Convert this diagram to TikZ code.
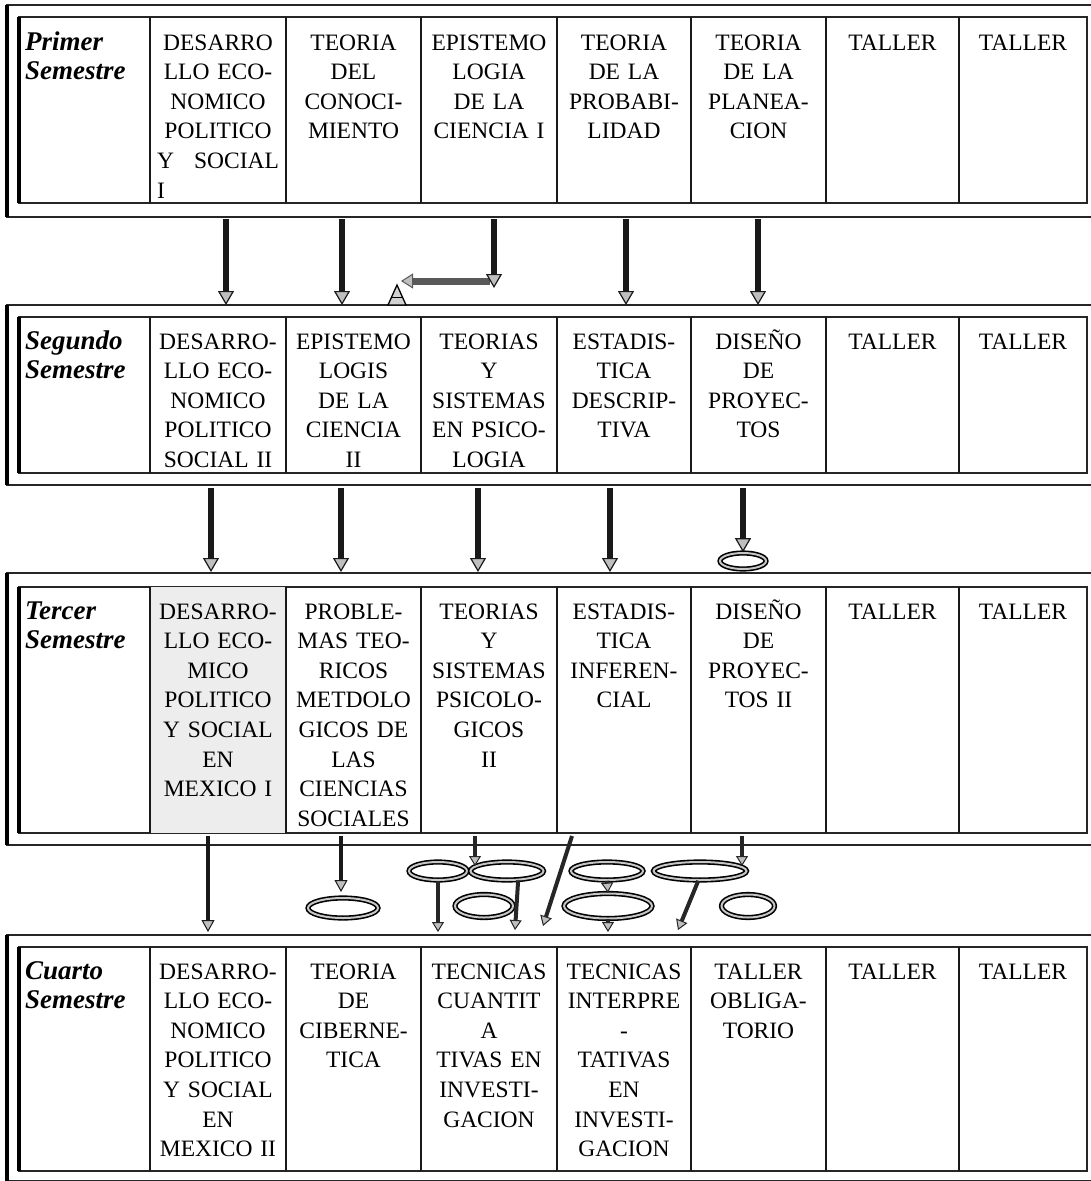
\documentclass[tikz,border=0pt]{standalone}
\usepackage{fontspec}
\setmainfont{Liberation Serif}
\usetikzlibrary{arrows.meta,shapes.geometric}
\begin{document}
\begin{tikzpicture}[x=1pt,y=-1pt,
  cellt/.style={anchor=base,inner sep=0pt,align=center,text width=128pt,
    font=\fontsize{23.5}{29.6}\selectfont},
  semlabel/.style={anchor=base west,inner sep=0pt,align=left,text width=124pt,
    font=\fontsize{27}{29.6}\selectfont\bfseries\itshape},
  outerline/.style={line width=1.8pt,draw=black!85},
  innerline/.style={line width=1.5pt,draw=black!85},
  leftline/.style={line width=3.2pt,draw=black},
  colline/.style={line width=1.3pt,draw=black!90},
  bigarrow/.style={line width=6.5pt,draw=black!90,
    -{Triangle[width=16pt,length=14pt,line width'=1.2pt,fill=gray!50]}},
  medarrow/.style={line width=4.5pt,draw=black!90,
    -{Triangle[width=13pt,length=12pt,line width'=1pt,fill=gray!50]}},
  smallarrow/.style={line width=4pt,draw=black!85,
    -{Triangle[width=12pt,length=10pt,line width'=1pt,fill=gray!50]}},
  hbar/.style={line width=7pt,draw=black!65,
    -{Triangle[width=15pt,length=12pt,line width'=1pt,fill=gray!50]}},
  ell/.style={ellipse,draw=black,line width=1.6pt,double=gray!45,double distance=2pt,
    inner sep=0pt,fill=white},
]
\useasboundingbox (0,0) rectangle (1091,1181);

% ---------- row frames ----------
\foreach \ot/\it/\ib/\ob in {5/17/203/217, 305/317/473/485, 573/587/833/845, 935/947/1171/1181}{
  \draw[outerline] (1095,\ot) -- (7,\ot) -- (7,\ob) -- (1095,\ob);
  \draw[innerline] (1087,\it) -- (19,\it) -- (19,\ib) -- (1087,\ib) -- cycle;
  \draw[leftline] (7,\ot) -- (7,\ob);
  \draw[leftline] (19,\it) -- (19,\ib);
}
% shaded cell in third row
\fill[gray!14] (150,587) rectangle (286,833);
\foreach \it/\ib in {17/203, 317/473, 587/833, 947/1171}{
  \foreach \x in {150,286,421,557,691,826,959}{
    \draw[colline] (\x,\it) -- (\x,\ib);
  }
}

% ---------- row 1 ----------
\node[semlabel] (l1) at (25,50) {Primer\\Semestre};
\node[cellt] (r1c1) at (218,50) {DESARRO\\LLO ECO-\\NOMICO\\POLITICO\\\makebox[122pt][s]{Y\hfill SOCIAL}\\\makebox[122pt][l]{I}};
\node[cellt] (r1c2) at (353.5,50) {TEORIA\\DEL\\CONOCI-\\MIENTO};
\node[cellt] (r1c3) at (489,50) {EPISTEMO\\LOGIA\\DE\hspace{8pt}LA\\CIENCIA I};
\node[cellt] (r1c4) at (624,50) {TEORIA\\DE LA\\PROBABI-\\LIDAD};
\node[cellt] (r1c5) at (758.5,50) {TEORIA\\DE LA\\PLANEA-\\CION};
\node[cellt] (r1c6) at (892.5,50) {TALLER};
\node[cellt] (r1c7) at (1023,50) {TALLER};

% ---------- row 2 ----------
\node[semlabel] (l2) at (25,349) {Segundo\\Semestre};
\node[cellt] (r2c1) at (218,349) {DESARRO-\\LLO ECO-\\NOMICO\\POLITICO\\SOCIAL II};
\node[cellt] (r2c2) at (353.5,349) {EPISTEMO\\LOGIS\\DE\hspace{8pt}LA\\CIENCIA\\II};
\node[cellt] (r2c3) at (489,349) {TEORIAS\\Y\\SISTEMAS\\EN PSICO-\\LOGIA};
\node[cellt] (r2c4) at (624,349) {ESTADIS-\\TICA\\DESCRIP-\\TIVA};
\node[cellt] (r2c5) at (758.5,349) {DISEÑO\\DE\\PROYEC-\\TOS};
\node[cellt] (r2c6) at (892.5,349) {TALLER};
\node[cellt] (r2c7) at (1023,349) {TALLER};

% ---------- row 3 ----------
\node[semlabel] (l3) at (25,619) {Tercer\\Semestre};
\node[cellt] (r3c1) at (218,619) {DESARRO-\\LLO ECO-\\MICO\\POLITICO\\Y SOCIAL\\EN\\MEXICO I};
\node[cellt] (r3c2) at (353.5,619) {PROBLE-\\MAS TEO-\\RICOS\\METDOLO\\GICOS DE\\LAS\\CIENCIAS\\SOCIALES};
\node[cellt] (r3c3) at (489,619) {TEORIAS\\Y\\SISTEMAS\\PSICOLO-\\GICOS\\II};
\node[cellt] (r3c4) at (624,619) {ESTADIS-\\TICA\\INFEREN-\\CIAL};
\node[cellt] (r3c5) at (758.5,619) {DISEÑO\\DE\\PROYEC-\\TOS II};
\node[cellt] (r3c6) at (892.5,619) {TALLER};
\node[cellt] (r3c7) at (1023,619) {TALLER};

% ---------- row 4 ----------
\node[semlabel] (l4) at (25,979) {Cuarto\\Semestre};
\node[cellt] (r4c1) at (218,979) {DESARRO-\\LLO ECO-\\NOMICO\\POLITICO\\Y SOCIAL\\EN\\MEXICO II};
\node[cellt] (r4c2) at (353.5,979) {TEORIA\\DE\\CIBERNE-\\TICA};
\node[cellt] (r4c3) at (489,979) {TECNICAS\\CUANTIT\\A\\TIVAS EN\\INVESTI-\\GACION};
\node[cellt] (r4c4) at (624,979) {TECNICAS\\INTERPRE\\-\\TATIVAS\\EN\\INVESTI-\\GACION};
\node[cellt] (r4c5) at (758.5,979) {TALLER\\OBLIGA-\\TORIO};
\node[cellt] (r4c6) at (892.5,979) {TALLER};
\node[cellt] (r4c7) at (1023,979) {TALLER};

% ---------- arrows row 1 -> row 2 ----------
\foreach \n/\x in {a/226,b/342,d/626,e/758}{
  \coordinate (s1\n) at (\x,219);
  \coordinate (t1\n) at (\x,305);
  \draw[bigarrow] (s1\n) -- (t1\n);
}
\coordinate (s1c) at (494,219);
\coordinate (k1c) at (494,288);
\coordinate (h1a) at (490,281);
\coordinate (h1b) at (401,281);
\draw[hbar] (h1a) -- (h1b);
\draw[bigarrow] (s1c) -- (k1c);
\draw[line width=1.3pt,fill=gray!35] (388,305) -- (397,285) -- (406,305) -- cycle;
\draw[line width=1pt] (392,297) -- (402,297);

% ---------- arrows row 2 -> row 3 ----------
\foreach \n/\x in {a/211,b/341,c/478,d/610}{
  \coordinate (s2\n) at (\x,488);
  \coordinate (t2\n) at (\x,572);
  \draw[bigarrow] (s2\n) -- (t2\n);
}
\node[ell,minimum width=46pt,minimum height=16pt] (ee) at (743,561) {};
\coordinate (s2e) at (743,488);
\draw[bigarrow] (s2e) -- (ee.north);

% ---------- arrows row 3 -> row 4 ----------
\coordinate (s3a) at (208,836);
\coordinate (t3a) at (208,932);
\draw[medarrow] (s3a) -- (t3a);

\node[ell,minimum width=70pt,minimum height=20pt] (eb) at (343,908) {};
\coordinate (s3b) at (341,836);
\coordinate (t3b) at (341,892);
\draw[medarrow] (s3b) -- (t3b);

\node[ell,minimum width=58pt,minimum height=18pt] (e1) at (438,871) {};
\node[ell,minimum width=58pt,minimum height=23pt] (e2) at (484,906) {};
\node[ell,minimum width=73pt,minimum height=18pt] (e3) at (507,871) {};
\node[ell,minimum width=72pt,minimum height=18pt] (e4) at (607,871) {};
\node[ell,minimum width=88pt,minimum height=25pt] (e5) at (608,906) {};
\node[ell,minimum width=93pt,minimum height=18pt] (e6) at (700,871) {};
\node[ell,minimum width=53pt,minimum height=23pt] (e7) at (748,906) {};

\coordinate (t3e1) at (438,932);
\draw[smallarrow] (e1.south) -- (t3e1);

\coordinate (s3c) at (475,836);
\coordinate (t3c) at (475,866);
\draw[smallarrow] (s3c) -- (t3c);

\coordinate (t3e3) at (515,930);
\draw[smallarrow] (e3.-40) -- (t3e3);

\coordinate (s3d) at (572,836);
\coordinate (t3d) at (543,926);
\draw[smallarrow] (s3d) -- (t3d);

\draw[smallarrow] (e4.south) -- (e5.north);
\coordinate (t3e5) at (608,932);
\draw[smallarrow] (e5.south) -- (t3e5);

\coordinate (s3f) at (742,836);
\coordinate (t3f) at (742,866);
\draw[smallarrow] (s3f) -- (t3f);

\coordinate (t3e6) at (678,930);
\draw[smallarrow] (e6.-100) -- (t3e6);
\end{tikzpicture}
\end{document}
